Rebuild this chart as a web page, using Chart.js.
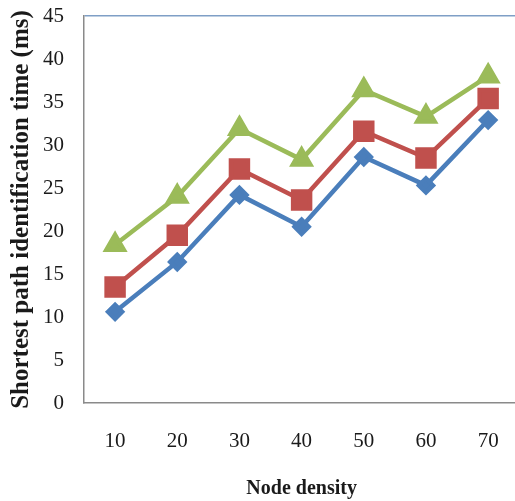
<!DOCTYPE html>
<html>
<head>
<meta charset="utf-8">
<script src="https://cdn.jsdelivr.net/npm/chart.js@4.4.1/dist/chart.umd.min.js"></script>
<style>
    html, body { margin: 0; padding: 0; background: #fff; overflow: hidden; }
</style>
</head>
<body>
<canvas id="pathChart" width="525" height="501"></canvas>
<script>
// Node density categories and the three series
const nodeDensity = ['10', '20', '30', '40', '50', '60', '70'];
const blueSeries  = [10.6, 16.4, 24.2, 20.5, 28.6, 25.3, 32.9];
const redSeries   = [13.5, 19.5, 27.2, 23.6, 31.6, 28.5, 35.4];
const greenSeries = [18.4, 24.0, 31.9, 28.3, 36.4, 33.3, 38.0];
const yTicks      = [0, 5, 10, 15, 20, 25, 30, 35, 40, 45];

Chart.defaults.font.family = "'Liberation Serif', 'Times New Roman', serif";
Chart.defaults.color = '#1a1a1a';

const ctx = document.getElementById('pathChart');

new Chart(ctx, {
    type: 'line',
    data: {
        labels: nodeDensity,
        datasets: [
            {
                label: 'Series 1',
                data: blueSeries,
                borderColor: '#4a7ebb',
                backgroundColor: '#4a7ebb',
                borderWidth: 4.5,
                pointStyle: 'rectRot',
                pointRadius: 7,
                tension: 0
            },
            {
                label: 'Series 2',
                data: redSeries,
                borderColor: '#c0504d',
                backgroundColor: '#c0504d',
                borderWidth: 4.5,
                pointStyle: 'rect',
                pointRadius: 12,
                tension: 0
            },
            {
                label: 'Series 3',
                data: greenSeries,
                borderColor: '#9bbb59',
                backgroundColor: '#9bbb59',
                borderWidth: 4.5,
                pointStyle: 'triangle',
                pointRadius: 10,
                tension: 0
            }
        ]
    },
    options: {
        responsive: false,
        animation: false,
        layout: {
            autoPadding: false,
            padding: { top: 0, right: 5, left: 0, bottom: 0 }
        },
        plugins: {
            legend: { display: false },
            tooltip: { enabled: false }
        },
        scales: {
            x: {
                offset: true,
                grid: { display: false, drawTicks: false },
                border: { display: true, color: '#8a8a8a', width: 1.5 },
                ticks: {
                    padding: 26,
                    font: { size: 21 }
                },
                title: {
                    display: true,
                    text: 'Node density',
                    font: { size: 20, weight: 'bold' },
                    padding: { top: 0, bottom: 0 }
                },
                afterFit: scale => { scale.height = 98; }
            },
            y: {
                min: 0,
                max: 45,
                afterBuildTicks: scale => {
                    scale.ticks = yTicks.map(v => ({ value: v }));
                },
                grid: {
                    drawTicks: false,
                    lineWidth: 1.5,
                    color: c => c.tick && c.tick.value === 45 ? '#7f9fc6' : 'rgba(0,0,0,0)'
                },
                border: { display: true, color: '#8a8a8a', width: 1.5 },
                ticks: {
                    padding: 20,
                    font: { size: 21 }
                },
                title: {
                    display: true,
                    text: 'Shortest path identification time (ms)',
                    font: { size: 25, weight: 'bold' },
                    padding: { top: 7, bottom: 0 }
                },
                afterFit: scale => {
                    scale.width = 84;
                    scale.paddingTop = 16;
                }
            }
        }
    }
});
</script>
</body>
</html>
